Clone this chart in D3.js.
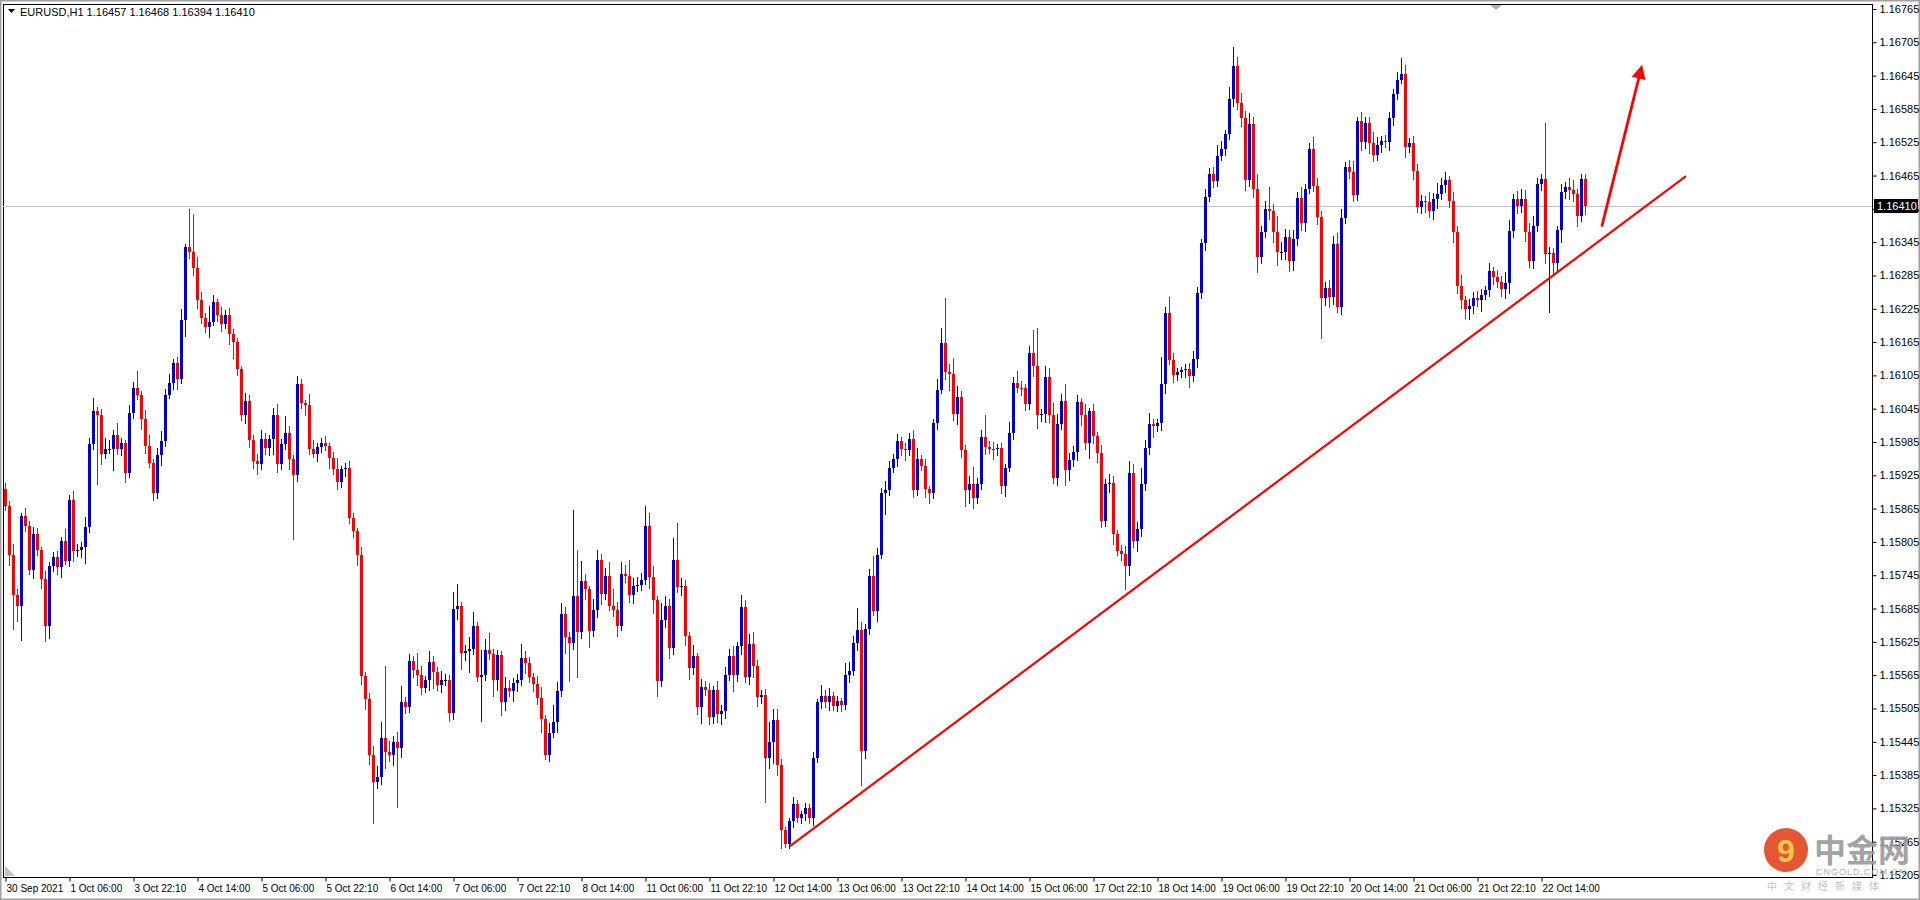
<!DOCTYPE html>
<html>
<head>
<meta charset="utf-8">
<script src="https://cdn.jsdelivr.net/npm/d3@7"></script>
<style>
  body { margin: 0; background: #fff; }
  svg { display: block; font-family: "Liberation Sans", Arial, sans-serif; }
</style>
</head>
<body>
<svg id="chart" width="1920" height="900"></svg>
<script>
// closes in points above 1.15000 (open = previous close)
const closes = [
  870,782,710,690,851,834,754,820,790,739,654,761,777,760,807,771,
  881,788,790,795,831,982,1040,1033,964,972,973,998,972,983,930,1038,
  1083,1069,1027,978,948,894,962,986,1070,1092,1127,1099,1205,1336,1327,1299,
  1241,1208,1193,1202,1237,1213,1198,1214,1179,1165,1116,1033,1059,989,951,945,
  991,974,991,1034,945,982,1002,954,925,1089,1055,1051,973,964,976,983,
  977,957,937,913,936,939,848,824,781,563,522,422,372,382,451,426,
  421,445,434,516,507,591,575,566,541,556,588,570,547,557,557,496,
  685,690,605,608,613,653,561,566,611,603,556,602,516,542,536,550,
  557,596,587,561,549,524,486,421,461,481,537,675,634,623,707,642,
  735,720,644,683,773,712,744,690,683,654,747,743,709,726,727,737,
  833,741,700,554,665,690,614,772,723,726,635,577,599,507,544,539,
  489,538,495,501,566,600,565,617,687,561,622,581,525,530,416,445,
  484,404,286,261,302,333,307,315,325,307,415,516,528,516,527,509,
  518,511,566,573,623,646,428,648,744,680,782,893,899,939,955,986,
  972,970,991,899,954,941,900,893,1019,1079,1164,1111,1107,1035,1066,971,
  898,910,884,910,994,976,973,972,974,906,939,1001,1092,1083,1082,1054,
  1146,1122,1033,1035,1102,1034,921,1017,1059,935,952,967,1057,1033,984,1041,
  995,966,842,909,911,819,789,784,762,930,806,829,909,975,1017,1013,
  1019,1089,1217,1132,1106,1111,1115,1116,1103,1134,1254,1343,1427,1468,1455,1500,
  1513,1539,1603,1663,1595,1568,1457,1558,1440,1319,1364,1404,1401,1363,1327,1327,
  1354,1311,1350,1425,1379,1441,1512,1447,1390,1244,1263,1247,1341,1229,1388,1481,
  1472,1430,1563,1526,1559,1523,1502,1520,1528,1526,1568,1611,1637,1648,1517,1523,
  1473,1409,1420,1417,1401,1423,1431,1448,1457,1419,1363,1266,1240,1224,1230,1245,
  1240,1250,1258,1293,1283,1274,1261,1272,1365,1423,1411,1423,1364,1311,1374,1449,
  1458,1324,1325,1307,1366,1436,1444,1439,1431,1393,1458,1410
];
const firstOpen = 900;
// upper / lower wick lengths in points
const upWick = [
  12,8,20,10,6,15,8,12,10,6,14,8,10,12,6,22,
  8,15,12,10,18,10,25,8,12,20,15,8,22,10,6,14,
  10,30,8,15,20,6,12,18,10,16,8,12,20,6,68,69,
  20,14,10,28,12,6,15,8,12,10,8,6,14,10,8,12,
  16,10,6,12,20,8,30,12,8,14,10,6,20,15,8,10,
  12,6,10,20,6,8,12,10,6,14,8,10,16,20,30,131,
  20,10,18,30,10,12,8,30,15,8,20,12,10,15,10,8,
  30,40,6,12,20,25,8,45,20,30,10,8,6,20,15,10,
  10,25,12,10,8,15,20,8,18,30,16,20,12,8,156,84,
  35,12,6,20,18,10,14,25,30,14,22,16,30,14,15,12,
  37,25,20,8,30,18,12,40,67,14,10,8,20,6,14,10,
  12,8,16,10,14,12,18,8,22,14,18,20,12,8,10,35,
  20,20,10,6,6,12,8,6,10,8,12,6,20,10,15,8,
  10,6,20,15,12,40,15,10,12,35,12,10,15,12,8,14,
  8,12,10,16,20,8,14,6,8,20,26,80,15,30,20,10,
  8,14,30,10,12,40,10,12,8,10,6,20,10,20,12,8,
  12,40,68,10,20,16,22,18,12,30,14,10,12,8,20,6,
  12,8,14,10,16,12,8,10,14,20,15,12,30,14,20,10,
  8,50,12,30,14,8,6,10,12,15,10,8,14,10,12,20,
  15,8,22,33,16,18,14,20,12,28,10,15,40,12,30,18,
  14,12,16,10,20,8,12,22,14,12,10,14,15,20,16,8,
  12,20,8,16,12,12,20,14,8,10,12,10,14,28,16,10,
  14,12,10,8,18,10,20,12,14,8,16,12,20,8,12,10,
  12,10,8,14,8,12,10,20,20,8,14,18,16,15,18,12,
  10,102,12,10,8,14,10,16,18,10,10,10
];
const dnWick = [
  10,20,63,30,63,12,8,15,10,18,30,23,10,15,20,8,
  12,20,10,14,30,10,12,126,20,10,8,40,10,12,18,10,
  12,8,20,14,10,15,12,20,10,8,14,20,10,30,12,15,
  16,10,12,20,8,12,14,10,20,30,12,10,16,15,14,20,
  10,12,14,30,15,10,12,20,116,12,10,20,12,8,15,10,
  8,20,12,15,10,14,10,12,20,15,20,18,75,12,15,30,
  12,20,108,18,12,10,15,20,12,8,20,30,10,15,12,15,
  12,20,30,15,40,12,8,80,12,10,30,20,25,15,10,20,
  15,12,20,10,15,12,25,8,12,10,20,12,30,70,12,82,
  12,20,30,10,15,20,12,10,14,20,10,12,14,15,12,10,
  10,20,25,29,10,15,20,12,10,15,18,20,12,14,30,12,
  14,12,16,20,15,12,30,12,16,10,14,22,18,12,81,20,
  40,20,35,7,10,12,8,10,12,10,14,8,12,10,15,8,
  10,12,8,16,10,15,63,14,10,8,20,8,40,12,10,15,
  12,20,10,14,12,8,15,20,10,12,8,15,30,12,20,14,
  30,25,20,10,12,15,10,20,12,15,20,8,12,10,15,14,
  12,20,25,12,15,14,12,16,10,30,20,12,16,20,14,30,
  14,18,12,10,16,20,10,14,44,18,12,20,15,12,14,20,
  10,14,18,8,15,12,10,14,20,10,15,12,14,10,12,10,
  8,12,10,14,12,16,20,12,16,30,14,12,16,20,25,14,
  15,20,18,12,14,16,10,12,14,74,14,20,16,12,15,10,
  14,12,10,16,14,20,12,10,14,12,16,14,10,8,20,12,
  16,12,14,20,12,16,18,10,14,12,20,14,16,18,20,14,
  12,20,10,12,16,12,14,18,20,12,16,14,18,12,14,10,
  12,18,106,20,16,22,14,18,14,20,12,16
];
const timeLabels = [
  "30 Sep 2021","1 Oct 06:00","3 Oct 22:10","4 Oct 14:00","5 Oct 06:00","5 Oct 22:10",
  "6 Oct 14:00","7 Oct 06:00","7 Oct 22:10","8 Oct 14:00","11 Oct 06:00","11 Oct 22:10",
  "12 Oct 14:00","13 Oct 06:00","13 Oct 22:10","14 Oct 14:00","15 Oct 06:00","17 Oct 22:10",
  "18 Oct 14:00","19 Oct 06:00","19 Oct 22:10","20 Oct 14:00","21 Oct 06:00","21 Oct 22:10",
  "22 Oct 14:00"
];
const priceTicks = d3.range(0, 27).map(k => +(1.15205 + k * 0.0006).toFixed(5));
const lastPrice = 1.16410;
const trendLine = [[196.25, 1.15257], [420.25, 1.16464]];
const arrowLine = [[399.2, 1.16373], [408.6, 1.16645]];

const toPrice = v => 1.15 + v / 100000;
const bars = closes.map((c, i) => {
  const o = i === 0 ? firstOpen : closes[i - 1];
  return {
    i, o: toPrice(o), c: toPrice(c),
    h: toPrice(Math.max(o, c) + upWick[i]),
    l: toPrice(Math.min(o, c) - dnWick[i])
  };
});

const L = 3, T = 4, R = 1872, B = 877;
const svg = d3.select("#chart");
const x = d3.scaleLinear().domain([0, 466.75]).range([5, R]);
const y = d3.scaleLinear().domain([1.15205, 1.16765]).range([875, 9]);

// outer frame
svg.append("rect").attr("x", 0).attr("y", 0).attr("width", 1920).attr("height", 900)
  .attr("fill", "none").attr("stroke", "#a0a0a0").attr("stroke-width", 3);
const plot = svg.append("g");
plot.append("rect").attr("x", L + 0.5).attr("y", T + 0.5).attr("width", R - L).attr("height", B - T)
  .attr("fill", "#fff").attr("stroke", "#000").attr("stroke-width", 1);

// current price line
plot.append("line").attr("x1", L).attr("x2", R).attr("y1", Math.round(y(lastPrice)) + 0.5)
  .attr("y2", Math.round(y(lastPrice)) + 0.5).attr("stroke", "#c0c0c0");

const colorOf = d => d.c > d.o ? "#0000d0" : d.c < d.o ? "#ff0000" : "#000";
const cg = plot.append("g").attr("shape-rendering", "crispEdges");
cg.selectAll("line.wick").data(bars).enter().append("line")
  .attr("x1", d => Math.round(x(d.i)) + 0.5).attr("x2", d => Math.round(x(d.i)) + 0.5)
  .attr("y1", d => y(d.h)).attr("y2", d => y(d.l))
  .attr("stroke", colorOf);
cg.selectAll("rect.body").data(bars).enter().append("rect")
  .attr("x", d => Math.round(x(d.i)) - 1).attr("width", 3)
  .attr("y", d => y(Math.max(d.o, d.c)))
  .attr("height", d => Math.max(1, Math.abs(y(d.o) - y(d.c))))
  .attr("fill", colorOf);

// trend line and arrow
const lineGen = d3.line().x(d => x(d[0])).y(d => y(d[1]));
plot.append("path").attr("d", lineGen(trendLine)).attr("stroke", "#ff0000")
  .attr("stroke-width", 2.2).attr("fill", "none");
svg.append("defs").append("marker").attr("id", "ah").attr("viewBox", "0 0 10 10")
  .attr("refX", 2).attr("refY", 5).attr("markerWidth", 5).attr("markerHeight", 5)
  .attr("orient", "auto").append("path").attr("d", "M0,0L10,5L0,10z").attr("fill", "#ff0000");
plot.append("path").attr("d", lineGen(arrowLine)).attr("stroke", "#ff0000")
  .attr("stroke-width", 2.8).attr("fill", "none").attr("marker-end", "url(#ah)");

// right price axis
const yAxis = svg.append("g").attr("transform", `translate(${R + 0.5},0)`)
  .call(d3.axisRight(y).tickValues(priceTicks).tickFormat(d3.format(".5f")).tickSize(4).tickPadding(3));
yAxis.select(".domain").remove();
yAxis.selectAll("text").attr("font-size", 11).attr("fill", "#000");
const py = Math.round(y(lastPrice));
svg.append("rect").attr("x", R + 2).attr("y", py - 7).attr("width", 44).attr("height", 14).attr("fill", "#000");
svg.append("text").attr("x", R + 5).attr("y", py + 4).attr("font-size", 11).attr("fill", "#fff").text(lastPrice.toFixed(5));

// bottom time axis
const xTicks = timeLabels.map((t, k) => k * 16);
const xAxis = svg.append("g").attr("transform", `translate(0,${B + 0.5})`)
  .call(d3.axisBottom(x).tickValues(xTicks).tickFormat((d, k) => timeLabels[k]).tickSize(4).tickPadding(3));
xAxis.select(".domain").remove();
xAxis.selectAll("text").attr("font-size", 10).attr("fill", "#000").attr("text-anchor", "start").attr("dx", 1);
xAxis.selectAll("line").attr("transform", "translate(0.5,0)");

// header
svg.append("path").attr("d", "M8,9L15,9L11.5,13z").attr("fill", "#000");
svg.append("text").attr("x", 20).attr("y", 16).attr("font-size", 11).attr("fill", "#000")
  .text("EURUSD,H1  1.16457 1.16468 1.16394 1.16410");
svg.append("path").attr("d", "M1490,5L1502,5L1496,10z").attr("fill", "#b0b0b0");
svg.append("path").attr("d", "M5,866L5,876L15,876z").attr("fill", "#c0c0c0");

// watermark
const wm = svg.append("g").attr("opacity", 0.9);
wm.append("circle").attr("cx", 1786).attr("cy", 850).attr("r", 22).attr("fill", "#e2451c");
wm.append("text").attr("x", 1786).attr("y", 862).attr("text-anchor", "middle").attr("font-size", 32)
  .attr("font-weight", "bold").attr("fill", "#f7c23a").text("9");
wm.append("text").attr("x", 1814).attr("y", 862).attr("font-size", 32).attr("font-weight", "bold")
  .attr("font-family", "Noto Sans CJK SC").attr("fill", "#9a9a9a").text("中金网");
wm.append("text").attr("x", 1816).attr("y", 875).attr("font-size", 9).attr("fill", "#aaa")
  .attr("letter-spacing", 1).text("CNGOLD.COM.CN");
wm.append("text").attr("x", 1767).attr("y", 890).attr("font-size", 10).attr("fill", "#bbb")
  .attr("font-family", "Noto Sans CJK SC").attr("letter-spacing", 7).text("中文财经新媒体");
</script>
</body>
</html>
